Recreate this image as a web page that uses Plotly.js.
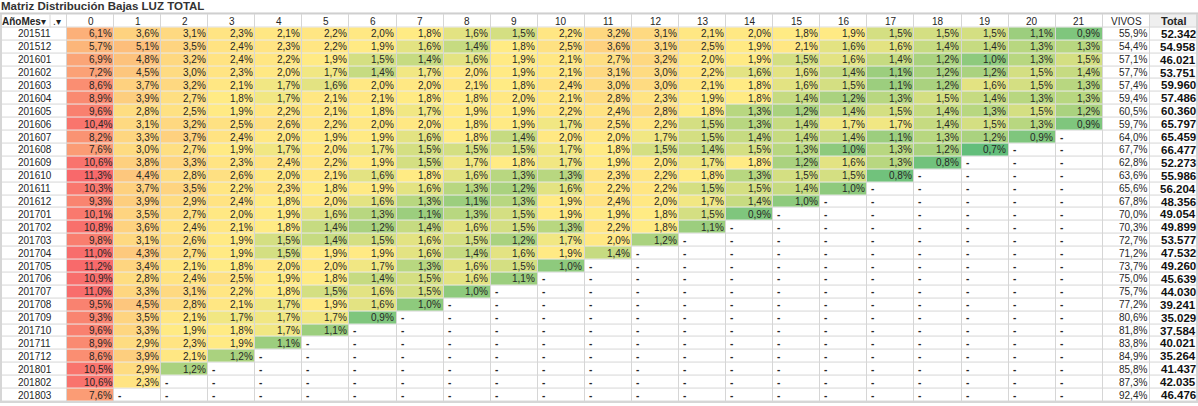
<!DOCTYPE html>
<html><head><meta charset="utf-8">
<script src="https://cdn.plot.ly/plotly-3.0.1.min.js"></script>
<style>html,body{margin:0;padding:0;background:#fff;}#chart{width:1198px;height:406px;}</style>
</head><body><div id="chart"></div>
<script>
const title = 'Matriz Distribución Bajas LUZ TOTAL';
const months = ['201511','201512','201601','201602','201603','201604','201605','201606','201607','201608',
  '201609','201610','201611','201612','201701','201702','201703','201704','201705','201706','201707',
  '201708','201709','201710','201711','201712','201801','201802','201803'];
const lags = ['0','1','2','3','4','5','6','7','8','9','10','11','12','13','14','15','16','17','18','19','20','21'];

const m201511 = [6.1,3.6,3.1,2.3,2.1,2.2,2.0,1.8,1.6,1.5,2.2,3.2,3.1,2.1,2.0,1.8,1.9,1.5,1.5,1.5,1.1,0.9];
const m201512 = [5.7,5.1,3.5,2.4,2.3,2.2,1.9,1.6,1.4,1.8,2.5,3.6,3.1,2.5,1.9,2.1,1.6,1.6,1.4,1.4,1.3,1.3];
const m201601 = [6.9,4.8,3.2,2.4,2.2,1.9,1.5,1.4,1.6,1.9,2.1,2.7,3.2,2.0,1.9,1.5,1.6,1.4,1.2,1.0,1.3,1.5];
const m201602 = [7.2,4.5,3.0,2.3,2.0,1.7,1.4,1.7,2.0,1.9,2.1,3.1,3.0,2.2,1.6,1.6,1.4,1.1,1.2,1.2,1.5,1.4];
const m201603 = [8.6,3.7,3.2,2.1,1.7,1.6,2.0,2.0,2.1,1.8,2.4,3.0,3.0,2.1,1.8,1.6,1.5,1.1,1.2,1.6,1.5,1.3];
const m201604 = [8.9,3.9,2.7,1.8,1.7,2.1,2.1,1.8,1.8,2.0,2.1,2.8,2.3,1.9,1.8,1.4,1.2,1.3,1.5,1.4,1.3,1.3];
const m201605 = [9.6,2.8,2.5,1.9,2.2,2.1,1.8,1.7,1.9,1.9,2.2,2.4,2.8,1.8,1.3,1.2,1.4,1.5,1.4,1.3,1.5,1.2];
const m201606 = [10.4,3.1,3.2,2.5,2.6,2.2,2.0,2.0,1.8,1.9,1.7,2.5,2.2,1.5,1.3,1.4,1.7,1.7,1.4,1.5,1.3,0.9];
const m201607 = [8.2,3.3,3.7,2.4,2.0,1.9,1.9,1.6,1.8,1.4,2.0,2.0,1.7,1.5,1.4,1.4,1.4,1.1,1.3,1.2,0.9];
const m201608 = [7.6,3.0,2.7,1.9,1.7,2.0,1.7,1.5,1.5,1.5,1.7,1.8,1.5,1.4,1.5,1.3,1.0,1.3,1.2,0.7];
const m201609 = [10.6,3.8,3.3,2.3,2.4,2.2,1.9,1.5,1.7,1.8,1.7,1.9,2.0,1.7,1.8,1.2,1.6,1.3,0.8];
const m201610 = [11.3,4.4,2.8,2.6,2.0,2.1,1.6,1.8,1.6,1.3,1.3,2.3,2.2,1.8,1.3,1.5,1.5,0.8];
const m201611 = [10.3,3.7,3.5,2.2,2.3,1.8,1.9,1.6,1.3,1.2,1.6,2.2,2.2,1.5,1.5,1.4,1.0];
const m201612 = [9.3,3.9,2.9,2.4,1.8,2.0,1.6,1.3,1.1,1.3,1.9,2.4,2.0,1.7,1.4,1.0];
const m201701 = [10.1,3.5,2.7,2.0,1.9,1.6,1.3,1.1,1.3,1.5,1.9,1.9,1.8,1.5,0.9];
const m201702 = [10.8,3.6,2.4,2.1,1.8,1.4,1.2,1.4,1.6,1.5,1.3,2.2,1.8,1.1];
const m201703 = [9.8,3.1,2.6,1.9,1.5,1.4,1.5,1.6,1.5,1.2,1.7,2.0,1.2];
const m201704 = [11.0,4.3,2.7,1.9,1.5,1.9,1.9,1.6,1.4,1.6,1.9,1.4];
const m201705 = [11.2,3.4,2.1,1.8,2.0,2.0,1.7,1.3,1.6,1.5,1.0];
const m201706 = [10.9,2.8,2.4,2.5,1.9,1.8,1.4,1.5,1.6,1.1];
const m201707 = [11.0,3.3,3.1,2.2,1.8,1.5,1.6,1.5,1.0];
const m201708 = [9.5,4.5,2.8,2.1,1.7,1.9,1.6,1.0];
const m201709 = [9.3,3.5,2.1,1.7,1.7,1.7,0.9];
const m201710 = [9.6,3.3,1.9,1.8,1.7,1.1];
const m201711 = [8.9,2.9,2.3,1.9,1.1];
const m201712 = [8.6,3.9,2.1,1.2];
const m201801 = [10.5,2.9,1.2];
const m201802 = [10.6,2.3];
const m201803 = [7.6];

const vivos = [55.9,54.4,57.1,57.7,57.4,59.4,60.5,59.7,64.0,67.7,62.8,63.6,65.6,67.8,70.0,70.3,72.7,71.2,73.7,75.0,75.7,77.2,80.6,81.8,83.8,84.9,85.8,87.3,92.4];
const totals = [52342,54958,46021,53751,59960,57486,60360,65797,65459,66477,52273,55986,56204,48356,49054,49899,53577,47532,49260,45639,44030,39241,35029,37584,40021,35264,41437,42035,46476];

const rates = [m201511,m201512,m201601,m201602,m201603,m201604,m201605,m201606,m201607,m201608,m201609,m201610,
  m201611,m201612,m201701,m201702,m201703,m201704,m201705,m201706,m201707,m201708,m201709,m201710,m201711,
  m201712,m201801,m201802,m201803];

// ---- layout constants (style) ----
const W = 1198, H = 406, LABEL_W = 67, TOP = 13, BOTTOM = 3;
const FONT = 'Liberation Sans, Arial, sans-serif';
const TXT = '#262626';

// category keys (non-numeric so the category axes keep them as categories)
const colLabels = lags.concat(['VIVOS', 'Total']);
const colKeys = colLabels.map(c => 'c_' + c);
const HDR = 'r_hdr', LBL = 'lbl';
const rowKeys = [HDR].concat(months.map(m => 'r_' + m));
const cellW = (W - LABEL_W) / colKeys.length;
const half = cellW / 2;

const pct = v => v.toFixed(1).replace('.', ',') + '%';
const thousands = v => String(v).replace(/\B(?=(\d{3})+(?!\d))/g, '.');

// Excel-like 3-colour scale: min green, median yellow, max red
const sorted = rates.flat().slice().sort((a, b) => a - b);
const n = sorted.length;
const median = n % 2 ? sorted[(n - 1) / 2] : (sorted[n / 2 - 1] + sorted[n / 2]) / 2;
const vmin = sorted[0], vmax = sorted[n - 1];
const midFrac = (median - vmin) / (vmax - vmin);
const colorscale = [[0, '#63BE7B'], [midFrac, '#FFEB84'], [1, '#F8696B']];

const zBase = rowKeys.map((r, i) => colLabels.map(c => (i === 0 && c === 'Total') ? 1 : 0));
const zData = rowKeys.map((r, i) => colLabels.map((c, j) => {
  if (i === 0) return null;
  const row = rates[i - 1];
  return (j < lags.length && j < row.length) ? row[j] : null;
}));
const zLabel = rowKeys.map(() => [0]);

const GAP = 1;
const traces = [
  {type: 'heatmap', x: [LBL], y: rowKeys, z: zLabel, xaxis: 'x2', yaxis: 'y',
   colorscale: [[0, '#FFFFFF'], [1, '#FFFFFF']], zmin: 0, zmax: 1, showscale: false,
   xgap: GAP, ygap: GAP, hoverinfo: 'skip'},
  {type: 'heatmap', x: colKeys, y: rowKeys, z: zBase,
   colorscale: [[0, '#FFFFFF'], [1, '#EFEFEF']], zmin: 0, zmax: 1, showscale: false,
   xgap: GAP, ygap: GAP, hoverinfo: 'skip'},
  {type: 'heatmap', x: colKeys, y: rowKeys, z: zData,
   colorscale: colorscale, zmin: vmin, zmax: vmax, showscale: false,
   xgap: GAP, ygap: GAP, hoverinfo: 'skip'}
];

const ann = [];
// header row
colLabels.forEach((c, j) => {
  ann.push({x: colKeys[j], y: HDR, xref: 'x', yref: 'y', showarrow: false,
    text: c === 'Total' ? '<b>Total</b>' : c,
    font: {family: FONT, size: c === 'Total' ? 11 : 10, color: TXT}});
});
ann.push({x: LBL, y: HDR, xref: 'x2', yref: 'y', showarrow: false, xanchor: 'left',
  xshift: -LABEL_W / 2 - 1, text: '<b>AñoMes</b>▾', font: {family: FONT, size: 10, color: TXT}});
ann.push({x: LBL, y: HDR, xref: 'x2', yref: 'y', showarrow: false, xanchor: 'left',
  xshift: LABEL_W / 2 - 17, text: '.▾', font: {family: FONT, size: 10, color: TXT}});

months.forEach((m, i) => {
  const rk = rowKeys[i + 1];
  ann.push({x: LBL, y: rk, xref: 'x2', yref: 'y', showarrow: false, text: m,
    font: {family: FONT, size: 10, color: TXT}});
  const row = rates[i];
  lags.forEach((l, j) => {
    if (j < row.length) {
      ann.push({x: colKeys[j], y: rk, xref: 'x', yref: 'y', showarrow: false, xanchor: 'right',
        xshift: half - 0.5, text: pct(row[j]), font: {family: FONT, size: 10, color: TXT}});
    } else {
      ann.push({x: colKeys[j], y: rk, xref: 'x', yref: 'y', showarrow: false, xanchor: 'left',
        xshift: -half + 2, text: '<b>-</b>', font: {family: FONT, size: 10, color: TXT}});
    }
  });
  ann.push({x: 'c_VIVOS', y: rk, xref: 'x', yref: 'y', showarrow: false, xanchor: 'right',
    xshift: half - 1, text: pct(vivos[i]), font: {family: FONT, size: 10, color: TXT}});
  ann.push({x: 'c_Total', y: rk, xref: 'x', yref: 'y', showarrow: false, xanchor: 'right',
    xshift: half + 1, text: '<b>' + thousands(totals[i]) + '</b>', font: {family: FONT, size: 11.5, color: '#111'}});
});

// title
ann.push({x: 0, y: 1, xref: 'paper', yref: 'paper', xanchor: 'left', yanchor: 'bottom', yshift: 0,
  showarrow: false, borderpad: 0, text: '<b>' + title + '</b>',
  font: {family: FONT, size: 11.5, color: '#333'}});

const layout = {
  width: W, height: H,
  margin: {l: 0, r: 0, t: TOP, b: BOTTOM, pad: 0},
  paper_bgcolor: '#FFFFFF', plot_bgcolor: '#D6D6D6',
  showlegend: false, hovermode: false,
  xaxis: {domain: [LABEL_W / W, 1], type: 'category', categoryarray: colKeys, categoryorder: 'array',
          showticklabels: false, showgrid: false, zeroline: false, ticks: '', fixedrange: true, anchor: 'y'},
  xaxis2: {domain: [0, LABEL_W / W], type: 'category', showticklabels: false, showgrid: false,
           zeroline: false, ticks: '', fixedrange: true, anchor: 'y'},
  yaxis: {type: 'category', categoryarray: rowKeys, categoryorder: 'array', autorange: 'reversed',
          showticklabels: false, showgrid: false, zeroline: false, ticks: '', fixedrange: true},
  annotations: ann,
  shapes: [
    {type: 'line', xref: 'paper', yref: 'paper', x0: 0, x1: 1, y0: 1, y1: 1, line: {color: '#C8C8C8', width: 1}},
    {type: 'line', xref: 'paper', yref: 'y', x0: 50 / W, x1: 50 / W, y0: -0.5, y1: 0.5, line: {color: '#D6D6D6', width: 1}}
  ]
};

Plotly.newPlot('chart', traces, layout, {displayModeBar: false, staticPlot: true});
</script></body></html>
